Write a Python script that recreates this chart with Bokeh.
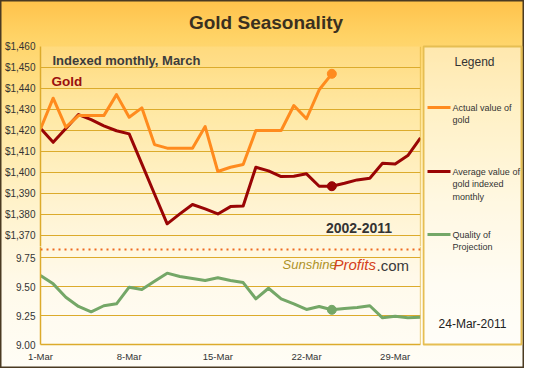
from bokeh.plotting import figure
from bokeh.layouts import row, column
from bokeh.models import Range1d, FixedTicker, Span, Label, NumeralTickFormatter, ColumnDataSource
from bokeh.core.properties import value
from bokeh.embed import file_html
from bokeh.resources import INLINE

# ---------------- data ----------------
days = list(range(1, 32))
actual_days = list(range(1, 25))
actual_gold = [1420.8, 1435.4, 1421.6, 1427.1, 1427.1, 1427.1, 1437.1, 1426.3, 1430.8, 1413.3,
               1411.6, 1411.6, 1411.6, 1421.9, 1400.5, 1402.5, 1403.8, 1420.0, 1420.0, 1420.0,
               1431.9, 1425.6, 1439.4, 1447.0]
avg_indexed = [1421.1, 1414.4, 1421.0, 1427.6, 1425.2, 1422.2, 1419.9, 1418.4, 1404.1, 1389.8,
               1375.6, 1380.3, 1384.8, 1382.7, 1380.3, 1383.8, 1384.1, 1402.5, 1400.8, 1398.1,
               1398.2, 1399.4, 1393.5, 1393.5, 1394.9, 1396.5, 1397.3, 1404.4, 1404.1, 1408.1,
               1416.5]
quality = [9.595, 9.523, 9.408, 9.328, 9.282, 9.334, 9.351, 9.494, 9.474, 9.546,
           9.615, 9.586, 9.569, 9.552, 9.575, 9.552, 9.534, 9.394, 9.485, 9.394,
           9.351, 9.302, 9.328, 9.299, 9.310, 9.319, 9.334, 9.230, 9.244, 9.230,
           9.235]
today = 24
x_ticks = [1, 8, 15, 22, 29]
x_tick_labels = ["1-Mar", "8-Mar", "15-Mar", "22-Mar", "29-Mar"]
price_ticks = [1370, 1380, 1390, 1400, 1410, 1420, 1430, 1440, 1450, 1460]
quality_ticks = [9.00, 9.25, 9.50, 9.75]
legend_labels = [["Actual value of", "gold"],
                 ["Average value of", "gold indexed", "monthly"],
                 ["Quality of", "Projection"]]

# ---------------- styles ----------------
FONT = "Liberation Sans"
GRID = "#DCAB2C"
ORANGE = "#FF8B1E"
DARKRED = "#990505"
GREEN = "#74A767"
TXT = "#333333"
SEP_Q = 9.819

x_range = Range1d(1, 31)


def bare(fig):
    fig.background_fill_alpha = 0
    fig.border_fill_alpha = 0
    fig.outline_line_color = None
    fig.xgrid.grid_line_color = None
    fig.ygrid.grid_line_color = None


def base(fig):
    fig.background_fill_color = "white"
    fig.background_fill_alpha = 0.12
    fig.border_fill_alpha = 0
    fig.outline_line_color = None
    fig.xgrid.grid_line_color = None
    ax = fig.yaxis[0]
    ax.axis_line_color = GRID
    ax.axis_line_width = 1.5
    ax.major_tick_out = 0
    ax.major_tick_in = 0
    ax.minor_tick_out = 0
    ax.minor_tick_in = 0
    ax.major_label_standoff = 5
    ax.major_label_text_font = FONT
    ax.major_label_text_font_size = "10px"
    ax.major_label_text_color = TXT
    fig.ygrid.grid_line_color = GRID
    fig.ygrid.grid_line_width = 1.2
    fig.add_layout(Span(location=x_range.end, dimension="height", line_color=GRID, line_width=1.2))


# ----- title band -----
head = figure(width=524, height=36, x_range=Range1d(0, 524), y_range=Range1d(36, 0),
              output_backend="svg", toolbar_location=None, x_axis_location=None, y_axis_location=None,
              min_border_left=0, min_border_right=0, min_border_top=0, min_border_bottom=0)
bare(head)
head.text(x=[265.5], y=[22], text=["Gold Seasonality"], text_font=value(FONT),
          text_font_size="19px", text_font_style="bold", text_color="#3A3020",
          text_align="center", text_baseline="middle")

# ----- top panel (gold prices) -----
top = figure(width=422, height=210, x_range=x_range, y_range=Range1d(1364.8, 1460),
             output_backend="svg", toolbar_location=None, x_axis_location=None,
             min_border_left=40, min_border_right=2, min_border_top=10, min_border_bottom=0)
base(top)
top.yaxis[0].ticker = FixedTicker(ticks=price_ticks)
top.yaxis[0].formatter = NumeralTickFormatter(format="$0,0")
top.ygrid.ticker = FixedTicker(ticks=price_ticks)

top.line(days, avg_indexed, line_color=DARKRED, line_width=3, line_join="round")
top.line(actual_days, actual_gold, line_color=ORANGE, line_width=3, line_join="round")
top.scatter([today], [actual_gold[today - 1]], size=9, fill_color=ORANGE, line_color=ORANGE)
top.scatter([today], [avg_indexed[today - 1]], size=9, fill_color=DARKRED, line_color=DARKRED)

top.add_layout(Label(x=12, y=186, x_units="screen", y_units="screen", text="Indexed monthly, March",
                     text_font=FONT, text_font_size="13px", text_font_style="bold",
                     text_color="#3C3C3C", text_align="left", text_baseline="middle"))
top.add_layout(Label(x=11, y=165, x_units="screen", y_units="screen", text="Gold",
                     text_font=FONT, text_font_size="13.5px", text_font_style="bold",
                     text_color="#9A0E0E", text_align="left", text_baseline="middle"))
top.add_layout(Label(x=318.5, y=18.5, x_units="screen", y_units="screen", text="2002-2011",
                     text_font=FONT, text_font_size="14px", text_font_style="bold",
                     text_color=TXT, text_align="center", text_baseline="middle"))

# ----- bottom panel (quality) -----
bot = figure(width=422, height=122, x_range=x_range, y_range=Range1d(9.0, 9.845),
             output_backend="svg", toolbar_location=None,
             min_border_left=40, min_border_right=2, min_border_top=0, min_border_bottom=24)
base(bot)
bot.yaxis[0].ticker = FixedTicker(ticks=quality_ticks)
bot.yaxis[0].formatter = NumeralTickFormatter(format="0.00")
bot.ygrid.ticker = FixedTicker(ticks=quality_ticks[1:])
xa = bot.xaxis[0]
xa.ticker = FixedTicker(ticks=x_ticks)
xa.major_label_overrides = {d: lab for d, lab in zip(x_ticks, x_tick_labels)}
xa.axis_line_color = GRID
xa.axis_line_width = 1.5
xa.major_tick_out = 0
xa.major_tick_in = 0
xa.minor_tick_out = 0
xa.minor_tick_in = 0
xa.major_label_standoff = 6
xa.major_label_text_font = FONT
xa.major_label_text_font_size = "9.5px"
xa.major_label_text_color = TXT

bot.add_layout(Span(location=SEP_Q, dimension="width", line_color="#EE6A1E",
                    line_width=2, line_dash="2 4"))

bot.line(days, quality, line_color=GREEN, line_width=3, line_join="round")
bot.scatter([today], [quality[today - 1]], size=9, fill_color=GREEN, line_color=GREEN)

# logo
bot.add_layout(Label(x=242, y=80, x_units="screen", y_units="screen", text="Sunshine",
                     text_font=FONT, text_font_size="13px", text_font_style="italic",
                     text_color="#AE9226", text_align="left", text_baseline="middle"))
bot.add_layout(Label(x=293, y=80, x_units="screen", y_units="screen", text="Profits",
                     text_font=FONT, text_font_size="15px", text_font_style="italic",
                     text_color="#D4401A", text_align="left", text_baseline="middle"))
bot.add_layout(Label(x=336, y=79, x_units="screen", y_units="screen", text=".com",
                     text_font=FONT, text_font_size="15px",
                     text_color="#3A3A3A", text_align="left", text_baseline="middle"))

# ----- legend panel -----
leg = figure(width=102, height=332, x_range=Range1d(0, 102), y_range=Range1d(332, 0),
             output_backend="svg", toolbar_location=None, x_axis_location=None, y_axis_location=None,
             min_border_left=0, min_border_right=0, min_border_top=0, min_border_bottom=0)
bare(leg)

leg.quad(left=[1], right=[99], top=[10], bottom=[308], fill_color="white", fill_alpha=0.45,
         line_color="#E6BE52", line_width=2)

series_colors = [ORANGE, DARKRED, GREEN]
item_y = [71, 135, 198]
leg.segment(x0=[5] * 3, y0=item_y, x1=[28] * 3, y1=item_y, line_color=series_colors, line_width=3)

tx, ty, tt = [], [], []
for y0, lines in zip(item_y, legend_labels):
    for k, s in enumerate(lines):
        tx.append(30)
        ty.append(y0 + 12.5 * k)
        tt.append(s)
leg.text(x="x", y="y", text="text", source=ColumnDataSource(dict(x=tx, y=ty, text=tt)),
         text_font=value(FONT), text_font_size="9px", text_color=TXT,
         text_align="left", text_baseline="middle")
leg.text(x=[52], y=[25], text=["Legend"], text_font=value(FONT), text_font_size="12px",
         text_color=TXT, text_align="center", text_baseline="middle")
leg.text(x=[50], y=[287], text=["24-Mar-2011"], text_font=value(FONT), text_font_size="12px",
         text_color="#222222", text_align="center", text_baseline="middle")

layout = column(head, row(column(top, bot, spacing=0), leg, spacing=0), spacing=0,
                styles={"background": "linear-gradient(to bottom, #FFC24A 0%, #FFD366 10%, #FFE597 30%, #FFF2CA 55%, #FFFAEA 78%, #FFFDF6 100%)",
                        "box-shadow": "inset 0 0 0 1.5px #4A3A22"})

open("out.html", "w").write(file_html(layout, INLINE))
